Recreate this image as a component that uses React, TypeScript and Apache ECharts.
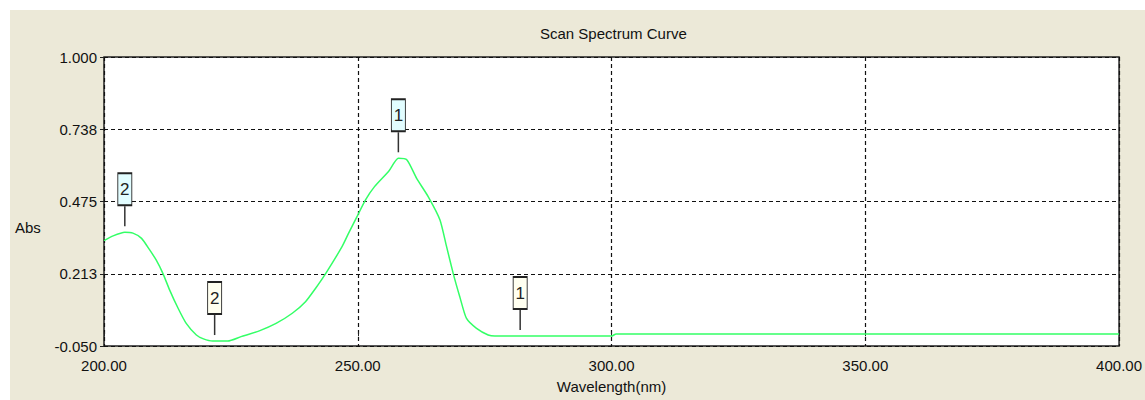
import React, { useEffect, useRef } from 'react';
import * as echarts from 'echarts';

const wavelengths = [
  200, 201.8, 204.1, 205.7, 207.4, 209.0, 210.3, 211.6, 212.9, 214.6, 216.2, 218.2, 219.6,
  221.4, 224.4, 227.0, 230.6, 233.9, 237.1, 239.7, 241.7, 243.7, 246.9, 248.2, 249.8,
  251.5, 253.3, 256.1, 258.0, 259.7, 261.6, 263.9, 266.2, 267.5, 268.8, 270.1, 271.4,
  273.4, 275.7, 277.0, 300.0, 300.9, 400,
];
const absorbance = [
  0.333, 0.35, 0.363, 0.36, 0.341, 0.299, 0.262, 0.214, 0.155, 0.087, 0.032, -0.01, -0.024,
  -0.032, -0.032, -0.016, 0.005, 0.032, 0.069, 0.111, 0.16, 0.214, 0.311, 0.36, 0.418,
  0.48, 0.529, 0.585, 0.632, 0.626, 0.559, 0.492, 0.408, 0.311, 0.214, 0.129, 0.051,
  0.014, -0.01, -0.014, -0.014, -0.006, -0.006,
];

const xMin = 200;
const xMax = 400;
const xStep = 50;
const yTickValues = [-0.05, 0.2125, 0.475, 0.7375, 1.0];
const yTickLabels = ['-0.050', '0.213', '0.475', '0.738', '1.000'];

const peakWl = [258.0, 204.1];
const peakAbs = [0.632, 0.363];
const peakLabels = ['1', '2'];
const valleyWl = [221.8, 282.0];
const valleyAbs = [-0.032, -0.014];
const valleyLabels = ['2', '1'];

const FONT = "'Liberation Sans', Arial, sans-serif";
const FS = 15;

export default function App() {
  const ref = useRef<HTMLDivElement>(null);
  useEffect(() => {
    if (!ref.current) return;
    const chart = echarts.init(ref.current, null, { renderer: 'svg' });
    const line = wavelengths.map((w, i) => [w, absorbance[i]]);
    const peaks = peakWl.map((w, i) => ({ value: [w, peakAbs[i]], name: peakLabels[i] }));
    const valleys = valleyWl.map((w, i) => ({ value: [w, valleyAbs[i]], name: valleyLabels[i] }));
    const stems = [...peaks, ...valleys].map((d) => d.value);
    const boxSeries = (data: any[], fill: string) => ({
      type: 'scatter',
      data,
      symbol: 'rect',
      symbolSize: [14, 32],
      symbolOffset: [0, -43],
      itemStyle: { color: fill, borderColor: '#222', borderWidth: 1.3, opacity: 1 },
      label: {
        show: true,
        position: 'inside',
        formatter: (p: any) => p.name,
        color: '#222',
        fontFamily: FONT,
        fontSize: 17,
      },
      z: 5,
      silent: true,
    });
    chart.setOption({
      animation: false,
      backgroundColor: 'transparent',
      title: {
        text: 'Scan Spectrum Curve',
        left: 525,
        top: 11,
        textStyle: { fontFamily: FONT, fontSize: FS, fontWeight: 'normal', color: '#111' },
      },
      graphic: [
        {
          type: 'text',
          left: 5,
          top: 210,
          style: { text: 'Abs', fontFamily: FONT, fontSize: FS, fill: '#111' },
        },
      ],
      grid: {
        left: 94,
        top: 47,
        width: 1020,
        height: 289,
        show: true,
        backgroundColor: '#ffffff',
        borderColor: '#222',
        borderWidth: 1.5,
      },
      xAxis: {
        type: 'value',
        min: xMin,
        max: xMax,
        interval: xStep,
        name: 'Wavelength(nm)',
        nameLocation: 'middle',
        nameGap: 33,
        nameTextStyle: { fontFamily: FONT, fontSize: FS, color: '#111' },
        axisLine: { show: false },
        axisTick: { show: true, length: 4, lineStyle: { color: '#222' } },
        axisLabel: {
          margin: 12,
          fontFamily: FONT,
          fontSize: FS,
          color: '#111',
          formatter: (v: number) => v.toFixed(2),
        },
        splitLine: { show: true, lineStyle: { color: '#111', type: [4, 3], width: 1.2 } },
      },
      yAxis: {
        type: 'value',
        min: yTickValues[0],
        max: yTickValues[yTickValues.length - 1],
        axisLine: { show: false },
        axisTick: { show: true, length: 4, lineStyle: { color: '#222' }, customValues: yTickValues },
        axisLabel: {
          margin: 7,
          fontFamily: FONT,
          fontSize: FS,
          color: '#111',
          customValues: yTickValues,
          formatter: (v: number) => {
            let best = 0;
            yTickValues.forEach((t, i) => {
              if (Math.abs(t - v) < Math.abs(yTickValues[best] - v)) best = i;
            });
            return yTickLabels[best];
          },
        },
        splitLine: { show: true, lineStyle: { color: '#111', type: [4, 3], width: 1.2 } },
      },
      series: [
        {
          type: 'line',
          data: line,
          showSymbol: false,
          smooth: 0.2,
          lineStyle: { color: '#33ff66', width: 1.5 },
          z: 3,
          silent: true,
        },
        {
          type: 'scatter',
          data: stems,
          symbol: 'rect',
          symbolSize: [1.5, 20],
          symbolOffset: [0, -16],
          itemStyle: { color: '#333', opacity: 1 },
          z: 4,
          silent: true,
        },
        boxSeries(peaks, '#e2fdff'),
        boxSeries(valleys, '#fffff0'),
      ],
    });
    return () => chart.dispose();
  }, []);
  return (
    <div
      ref={ref}
      style={{
        position: 'absolute',
        left: 10,
        top: 10,
        width: 1135,
        height: 390,
        backgroundColor: '#ece9d8',
      }}
    />
  );
}
